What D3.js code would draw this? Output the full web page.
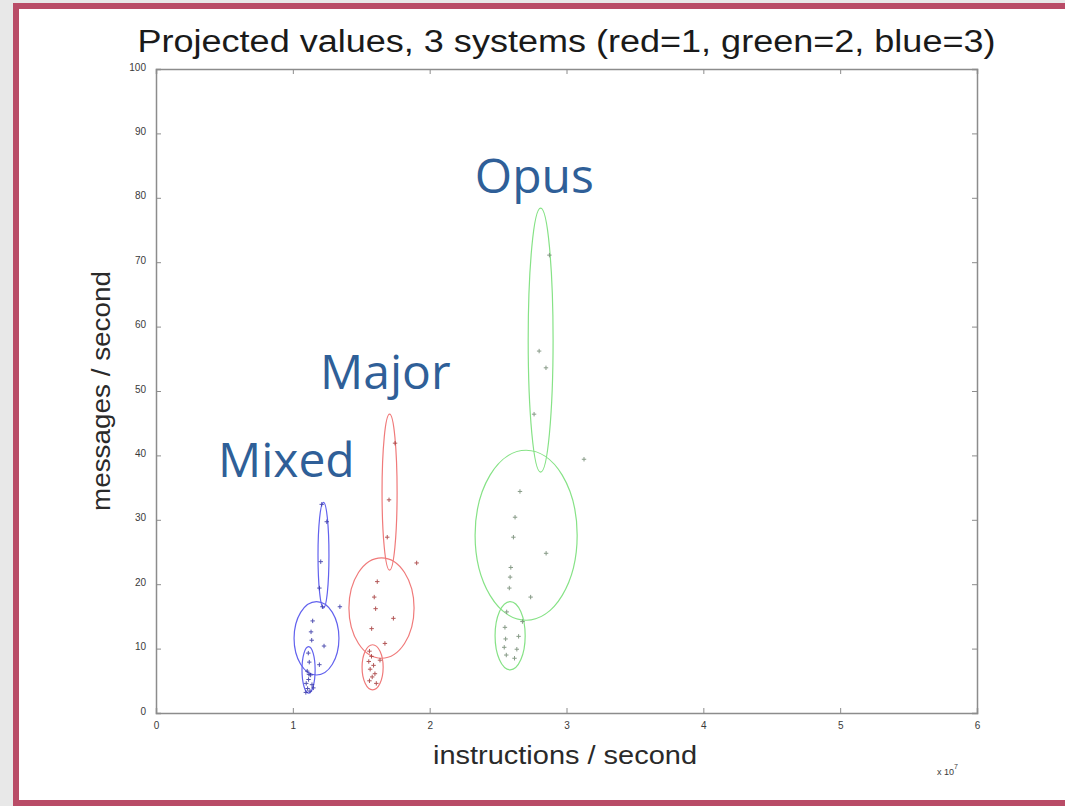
<!DOCTYPE html>
<html>
<head>
<meta charset="utf-8">
<script src="https://cdn.jsdelivr.net/npm/d3@7"></script>
<style>
  html, body { margin: 0; padding: 0; }
  body { width: 1065px; height: 806px; overflow: hidden; background: #e8e8e8; }
  svg { display: block; }
</style>
</head>
<body>
<svg id="chart" width="1065" height="806"></svg>
<script>
// Axis ticks
const xTicks = [0, 1, 2, 3, 4, 5, 6];
const yTicks = [0, 10, 20, 30, 40, 50, 60, 70, 80, 90, 100];

// System names and their mixture components: [centre x, centre y, half-width, half-height]
const systems = ["Mixed", "Major", "Opus"];
const mixedComponents = [[1.224, 24.5, 0.040, 8.2], [1.173, 11.6, 0.164, 5.7], [1.115, 6.7, 0.048, 3.6]];
const majorComponents = [[1.707, 34.3, 0.055, 12.1], [1.648, 16.3, 0.238, 7.8], [1.583, 7.1, 0.077, 3.5]];
const opusComponents  = [[2.811, 57.9, 0.091, 20.5], [2.705, 27.6, 0.373, 13.2], [2.588, 12.0, 0.110, 5.3]];

// Projected samples [instructions/s (x1e7), messages/s]
const mixedPoints = [
  [1.211, 32.4], [1.248, 29.7], [1.204, 23.5], [1.194, 19.4], [1.216, 16.5], [1.344, 16.5],
  [1.145, 14.3], [1.133, 12.6], [1.138, 11.3], [1.228, 10.4], [1.113, 9.3], [1.194, 7.5],
  [1.120, 7.9], [1.105, 6.5], [1.130, 5.9], [1.115, 5.2], [1.098, 4.6], [1.140, 4.4],
  [1.108, 3.8], [1.125, 3.4], [1.095, 3.2], [1.150, 3.9], [1.118, 6.0]
];
const majorPoints = [
  [1.747, 41.9], [1.703, 33.1], [1.690, 27.3], [1.905, 23.3], [1.617, 20.4], [1.595, 18.0],
  [1.605, 16.2], [1.735, 14.7], [1.576, 13.1], [1.673, 10.8], [1.637, 8.2], [1.560, 9.6],
  [1.575, 8.8], [1.555, 8.0], [1.590, 7.4], [1.565, 6.8], [1.600, 6.1], [1.580, 5.6],
  [1.560, 5.0], [1.610, 4.6]
];
const opusPoints = [
  [2.875, 71.1], [2.800, 56.2], [2.850, 53.6], [2.763, 46.4], [3.128, 39.4],
  [2.660, 34.4], [2.624, 30.4], [2.612, 27.3], [2.851, 24.8], [2.593, 22.6], [2.588, 21.1],
  [2.582, 19.4], [2.738, 18.0], [2.563, 15.7], [2.678, 14.2], [2.550, 13.3], [2.650, 11.9],
  [2.555, 11.5], [2.545, 10.2], [2.637, 9.9], [2.620, 8.5], [2.560, 9.0]
];

const groups = [
  { name: systems[0], comps: mixedComponents, pts: mixedPoints, ring: "#6262ee", mark: "#3535a5" },
  { name: systems[1], comps: majorComponents, pts: majorPoints, ring: "#f07a7a", mark: "#a53a3a" },
  { name: systems[2], comps: opusComponents,  pts: opusPoints,  ring: "#86e286", mark: "#738a73" }
];

const svg = d3.select("#chart");

// Page frame
svg.append("rect").attr("x", 16).attr("y", 6).attr("width", 1100).attr("height", 797)
  .attr("fill", "#ffffff").attr("stroke", "#b94c67").attr("stroke-width", 6);

const plot = { left: 156, right: 977, top: 69, bottom: 713 };
const x = d3.scaleLinear().domain([0, 6]).range([plot.left, plot.right]);
const y = d3.scaleLinear().domain([0, 100]).range([plot.bottom, plot.top]);

const axisColor = "#8c8c8c";

// Axes box with inward ticks
const g = svg.append("g");
const xAxis = g.append("g").attr("transform", `translate(0,${plot.bottom})`)
  .call(d3.axisBottom(x).tickValues(xTicks).tickSize(-5).tickPadding(9).tickFormat(d3.format("d")));
const xAxisTop = g.append("g").attr("transform", `translate(0,${plot.top})`)
  .call(d3.axisTop(x).tickValues(xTicks).tickSize(-5).tickFormat(""));
const yAxis = g.append("g").attr("transform", `translate(${plot.left},0)`)
  .call(d3.axisLeft(y).tickValues(yTicks).tickSize(-5).tickPadding(10).tickFormat(d3.format("d")));
const yAxisRight = g.append("g").attr("transform", `translate(${plot.right},0)`)
  .call(d3.axisRight(y).tickValues(yTicks).tickSize(-5).tickFormat(""));

[xAxis, xAxisTop, yAxis, yAxisRight].forEach(a => {
  a.select(".domain").attr("stroke", axisColor).attr("stroke-width", 1.5);
  a.selectAll(".tick line").attr("stroke", axisColor).attr("stroke-width", 1);
  a.selectAll("text").attr("fill", "#3a3a3a").attr("font-family", "Liberation Sans, Arial, sans-serif")
    .attr("font-size", 10);
});
yAxis.selectAll(".tick text").attr("dy", "0.1em");

// Mixture component ellipses and sample markers
const layer = svg.append("g");
groups.forEach(gr => {
  layer.selectAll(null).data(gr.comps).enter().append("ellipse")
    .attr("cx", d => x(d[0])).attr("cy", d => y(d[1]))
    .attr("rx", d => x(d[0] + d[2]) - x(d[0]))
    .attr("ry", d => y(d[1] - d[3]) - y(d[1]))
    .attr("fill", "none").attr("stroke", gr.ring).attr("stroke-width", 1.2);
  const cross = 2.2;
  layer.selectAll(null).data(gr.pts).enter().append("path")
    .attr("d", d => {
      const px = x(d[0]), py = y(d[1]);
      return `M${px - cross},${py}H${px + cross}M${px},${py - cross}V${py + cross}`;
    })
    .attr("stroke", gr.mark).attr("stroke-width", 1).attr("opacity", 0.85);
});

// Title and axis labels
const labelFont = "Liberation Sans Narrow, Liberation Sans, Arial, sans-serif";
svg.append("text").attr("x", (plot.left + plot.right) / 2).attr("y", 52)
  .attr("text-anchor", "middle").attr("font-family", labelFont).attr("font-size", 31)
  .attr("fill", "#1a1a1a").attr("textLength", 858).attr("lengthAdjust", "spacingAndGlyphs")
  .text("Projected values, 3 systems (red=1, green=2, blue=3)");

svg.append("text").attr("x", 565).attr("y", 764)
  .attr("text-anchor", "middle").attr("font-family", labelFont).attr("font-size", 25)
  .attr("fill", "#2a2a2a").attr("textLength", 264).attr("lengthAdjust", "spacingAndGlyphs")
  .text("instructions / second");

svg.append("text").attr("transform", `translate(110,391) rotate(-90)`)
  .attr("text-anchor", "middle").attr("font-family", labelFont).attr("font-size", 25)
  .attr("fill", "#2a2a2a").attr("textLength", 240).attr("lengthAdjust", "spacingAndGlyphs")
  .text("messages / second");

const expo = svg.append("text").attr("x", 937).attr("y", 775)
  .attr("font-family", "Liberation Sans, Arial, sans-serif").attr("font-size", 9).attr("fill", "#3a3a3a");
expo.append("tspan").text("x 10");
expo.append("tspan").attr("dy", -6).attr("font-size", 7).text("7");

// System names
const nameAnchors = [[0.453, 36.6], [1.199, 50.3], [2.33, 80.7]];
svg.selectAll(null).data(groups).enter().append("text")
  .attr("x", (d, i) => x(nameAnchors[i][0]))
  .attr("y", (d, i) => y(nameAnchors[i][1]))
  .attr("font-family", "Open Sans, sans-serif").attr("font-size", 48)
  .attr("fill", "#2f5f98")
  .text(d => d.name);
</script>
</body>
</html>
